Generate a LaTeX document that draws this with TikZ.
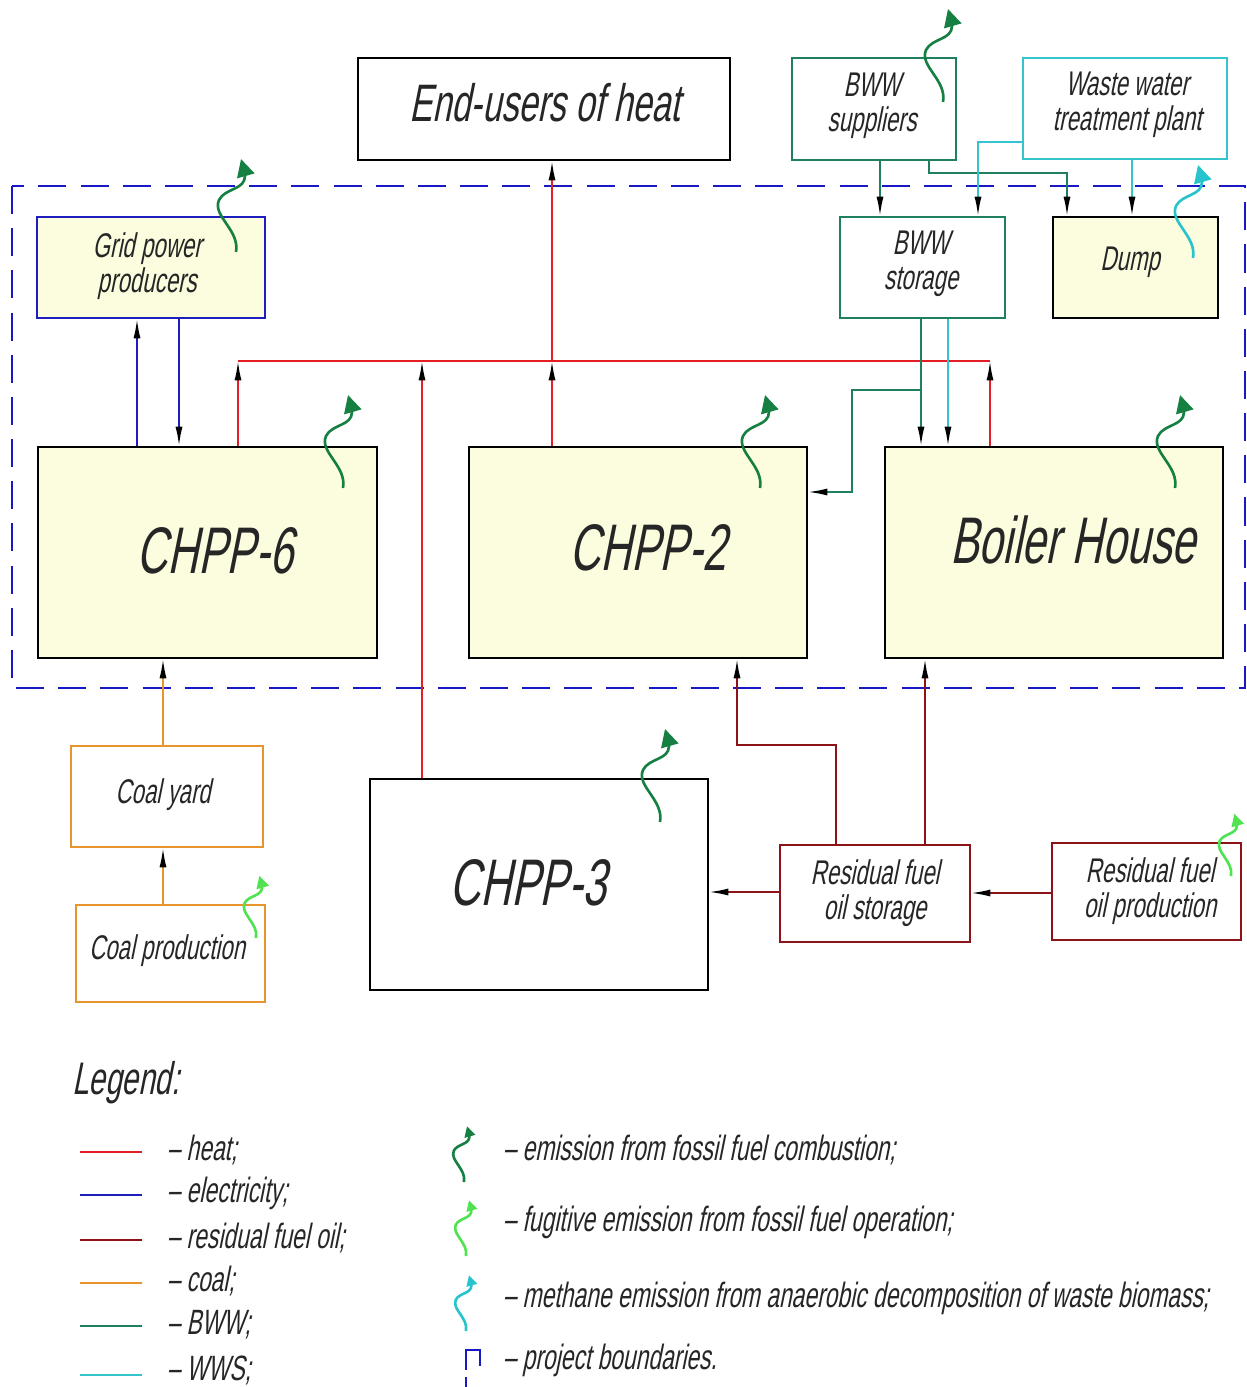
\documentclass[tikz,border=0pt]{standalone}
\usepackage{fontspec}
\setmainfont{Liberation Sans}[FakeStretch=0.65,FakeSlant=0.2]
\usetikzlibrary{arrows.meta,fit}
\definecolor{heatc}{RGB}{228,30,36}
\definecolor{elecc}{RGB}{30,30,190}
\definecolor{fuelc}{RGB}{140,20,24}
\definecolor{coalc}{RGB}{232,148,44}
\definecolor{bwwc}{RGB}{30,128,92}
\definecolor{wwsc}{RGB}{52,196,206}
\definecolor{boundc}{RGB}{24,24,196}
\definecolor{emisd}{RGB}{22,128,66}
\definecolor{emisl}{RGB}{80,226,80}
\definecolor{emism}{RGB}{40,196,206}
\definecolor{fillc}{RGB}{252,252,222}
\newcommand\emitmark[4]{%
  \begin{scope}[shift={(#1)},scale=#3]
    \draw[#2,line width=1.5pt,-{Triangle[length=#4,width=#4]}]
      (0,0) .. controls (4,-22) and (-24,-36) .. (-17,-52)
      .. controls (-11,-64) and (9,-62) .. (9,-76)
      .. controls (9,-82) and (7,-86) .. (5,-93);
  \end{scope}}
\begin{document}
\begin{tikzpicture}[x=0.02cm,y=-0.02cm,
  box/.style={draw,line width=1.1pt,inner sep=0pt},
  txt/.style={align=center,text=black!85,inner sep=0pt},
  bfont/.style={font=\fontsize{19.5}{20}\selectfont},
  big/.style={font=\fontsize{37.5}{40}\selectfont},
  yel/.style={fill=fillc},
  arr/.style={-{Latex[length=11pt,width=4pt,color=black]}},
  ln/.style={line width=1pt},
  legtext/.style={anchor=west,font=\fontsize{20}{22}\selectfont,text=black!85,inner sep=0pt}]
\useasboundingbox (0,0) rectangle (1247,1387);
% project boundary
\draw[boundc,line width=1.2pt,dash pattern=on 16pt off 8pt] (12,186) rectangle (1245,688);
% boxes
\node[box,fit={(358,58)(730,160)}] (end) {};
\node[box,draw=bwwc,fit={(792,58)(956,160)}] (bwws) {};
\node[box,draw=wwsc,fit={(1023,58)(1227,159)}] (wwtp) {};
\node[box,draw=elecc,yel,fit={(37,217)(265,318)}] (grid) {};
\node[box,draw=bwwc,fit={(840,217)(1005,318)}] (bwwst) {};
\node[box,yel,fit={(1053,217)(1218,318)}] (dump) {};
\node[box,yel,fit={(38,447)(377,658)}] (chpp6) {};
\node[box,yel,fit={(469,447)(807,658)}] (chpp2) {};
\node[box,yel,fit={(885,447)(1223,658)}] (boiler) {};
\node[box,draw=coalc,fit={(71,746)(263,847)}] (cyard) {};
\node[box,draw=coalc,fit={(76,905)(265,1002)}] (cprod) {};
\node[box,fit={(370,779)(708,990)}] (chpp3) {};
\node[box,draw=fuelc,fit={(780,845)(970,942)}] (rfs) {};
\node[box,draw=fuelc,fit={(1052,843)(1241,940)}] (rfp) {};
% box texts
\node[txt,font=\fontsize{30}{32}\selectfont] (endt) at (545,103) {End-users of heat};
\node[txt,bfont] (bwwst1) at (872,106) {BWW\\suppliers};
\node[txt,bfont] (wwtpt) at (1127,105) {Waste water\\treatment plant};
\node[txt,bfont] (gridt) at (147,266) {Grid power\\producers};
\node[txt,bfont] (bwwstt) at (921,264) {BWW\\storage};
\node[txt,bfont] (dumpt) at (1130,262) {Dump};
\node[txt,big] (chpp6t) at (215,551) {CHPP-6};
\node[txt,big] (chpp2t) at (648,548) {CHPP-2};
\node[txt,big] (boilert) at (1073,540) {Boiler House};
\node[txt,bfont] (cyardt) at (163,795) {Coal yard};
\node[txt,bfont] (cprodt) at (167,951) {Coal production};
\node[txt,big] (chpp3t) at (528,883) {CHPP-3};
\node[txt,bfont] (rfst) at (875,893) {Residual fuel\\oil storage};
\node[txt,bfont] (rfpt) at (1150,891) {Residual fuel\\oil production};
% helper coordinates
\coordinate (hb6) at (238,361);
\coordinate (hb3) at (422,361);
\coordinate (hb2) at (552,361);
\coordinate (hbb) at (990,361);
\coordinate (ex1) at (137,400);
\coordinate (ex2) at (179,400);
\coordinate (bx1) at (880,190);
\coordinate (bx2) at (929,173);
\coordinate (bx3) at (1067,173);
\coordinate (bx4) at (921,390);
\coordinate (bx5) at (852,390);
\coordinate (bx6) at (852,492);
\coordinate (wx1) at (978,142);
\coordinate (wx2) at (1132,190);
\coordinate (wx3) at (948,400);
\coordinate (fx1) at (836,745);
\coordinate (fx2) at (737,745);
\coordinate (fx3) at (925,750);
\coordinate (fy1) at (740,892);
\coordinate (fy2) at (1000,893);
\coordinate (cx) at (163,800);
% heat
\draw[heatc,ln] (hb6) -- (hbb);
\draw[heatc,ln,arr] (hb6 |- chpp6.north) -- (hb6);
\draw[heatc,ln,arr] (hb3 |- chpp3.north) -- (hb3);
\draw[heatc,ln,arr] (hb2 |- chpp2.north) -- (hb2);
\draw[heatc,ln,arr] (hb2) -- (hb2 |- end.south);
\draw[heatc,ln,arr] (hbb |- boiler.north) -- (hbb);
% electricity
\draw[elecc,ln,arr] (ex1 |- chpp6.north) -- (ex1 |- grid.south);
\draw[elecc,ln,arr] (ex2 |- grid.south) -- (ex2 |- chpp6.north);
% BWW
\draw[bwwc,ln,arr] (bx1 |- bwws.south) -- (bx1 |- bwwst.north);
\draw[bwwc,ln,arr] (bx2 |- bwws.south) -- (bx2) -- (bx3) -- (bx3 |- dump.north);
\draw[bwwc,ln,arr] (bx4 |- bwwst.south) -- (bx4 |- boiler.north);
\draw[bwwc,ln,arr] (bx4) -- (bx5) -- (bx6) -- (bx6 -| chpp2.east);
% WWS
\draw[wwsc,ln,arr] (wx1 -| wwtp.west) -- (wx1) -- (wx1 |- bwwst.north);
\draw[wwsc,ln,arr] (wx2 |- wwtp.south) -- (wx2 |- dump.north);
\draw[wwsc,ln,arr] (wx3 |- bwwst.south) -- (wx3 |- boiler.north);
% residual fuel oil
\draw[fuelc,ln,arr] (fx1 |- rfs.north) -- (fx1) -- (fx2) -- (fx2 |- chpp2.south);
\draw[fuelc,ln,arr] (fx3 |- rfs.north) -- (fx3 |- boiler.south);
\draw[fuelc,ln,arr] (fy1 -| rfs.west) -- (fy1 -| chpp3.east);
\draw[fuelc,ln,arr] (fy2 -| rfp.west) -- (fy2 -| rfs.east);
% coal
\draw[coalc,ln,arr] (cx |- cyard.north) -- (cx |- chpp6.south);
\draw[coalc,ln,arr] (cx |- cprod.north) -- (cx |- cyard.south);
% emissions
\emitmark{943,102}{emisd}{1}{10pt}
\emitmark{236,252}{emisd}{1}{10pt}
\emitmark{343,488}{emisd}{1}{10pt}
\emitmark{760,488}{emisd}{1}{10pt}
\emitmark{1175,488}{emisd}{1}{10pt}
\emitmark{660,822}{emisd}{1}{10pt}
\emitmark{1193,258}{emism}{1}{10pt}
\emitmark{256,938}{emisl}{0.67}{7pt}
\emitmark{1231,876}{emisl}{0.67}{7pt}
% legend
\node[anchor=west,inner sep=0pt,font=\fontsize{26}{28}\selectfont,text=black!85] (leg) at (72,1083) {Legend:};
\draw[heatc,ln] (80,1152) -- (142,1152);
\draw[elecc,ln] (80,1195) -- (142,1195);
\draw[fuelc,ln] (80,1240) -- (142,1240);
\draw[coalc,ln] (80,1283) -- (142,1283);
\draw[bwwc,ln] (80,1326) -- (142,1326);
\draw[wwsc,ln] (80,1375) -- (142,1375);
\node[legtext] (t1) at (167,1150) {– heat;};
\node[legtext] (t2) at (167,1193) {– electricity;};
\node[legtext] (t3) at (167,1238) {– residual fuel oil;};
\node[legtext] (t4) at (167,1281) {– coal;};
\node[legtext] (t5) at (167,1325) {– BWW;};
\node[legtext] (t6) at (167,1370) {– WWS;};
\emitmark{464,1182}{emisd}{0.6}{6pt}
\emitmark{466,1256}{emisl}{0.6}{6pt}
\emitmark{466,1331}{emism}{0.6}{6pt}
\draw[boundc,line width=1.2pt] (480,1366) -- (480,1350) -- (466,1350) -- (466,1370);
\draw[boundc,line width=1.2pt] (466,1377) -- (466,1387);
\node[legtext] (r1) at (503,1150) {– emission from fossil fuel combustion;};
\node[legtext] (r2) at (503,1222) {– fugitive emission from fossil fuel operation;};
\node[legtext] (r3) at (503,1298) {– methane emission from anaerobic decomposition of waste biomass;};
\node[legtext] (r4) at (503,1360) {– project boundaries.};
\end{tikzpicture}
\end{document}
